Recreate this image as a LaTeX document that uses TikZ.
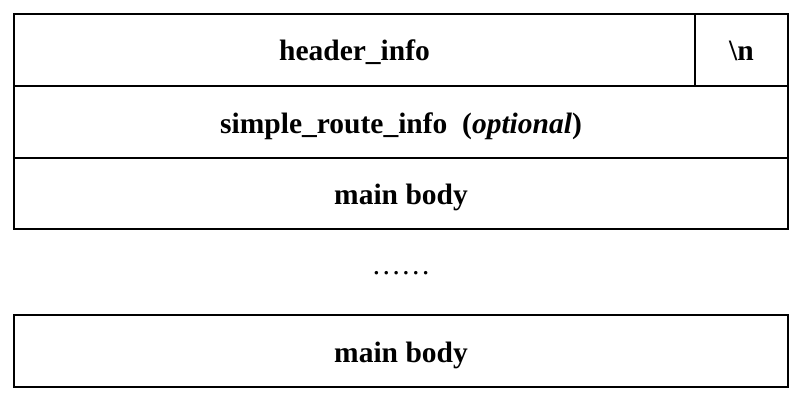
\documentclass[tikz,border=0pt]{standalone}
\usepackage{fontspec}
\setmainfont{Liberation Serif}
\begin{document}
\begin{tikzpicture}[x=1pt,y=-1pt,
  cell/.style={draw=black,line width=2pt,rectangle,inner sep=0pt,
    text height=24pt,text depth=2pt,
    minimum height=72pt,font=\fontsize{29.5}{34}\selectfont\bfseries},
]
\useasboundingbox (0,0) rectangle (799,401);
\node[cell,minimum width=681pt] (hdr) at (354.5,50) {header\_info};
\node[cell,minimum width=93pt] (nl) at (741.5,50) {\textbackslash n};
\node[cell,minimum width=774pt] (sri) at (401,122) {simple\_route\_info\ \ (\textit{optional})};
\node[cell,minimum width=774pt,minimum height=71pt] (mb1) at (401,193.5) {main body};
\node[font=\fontsize{29.5}{34}\selectfont,anchor=base,inner sep=0pt] (dots) at (401,274) {……};
\node[cell,minimum width=774pt] (mb2) at (401,351) {main body};
\end{tikzpicture}
\end{document}
